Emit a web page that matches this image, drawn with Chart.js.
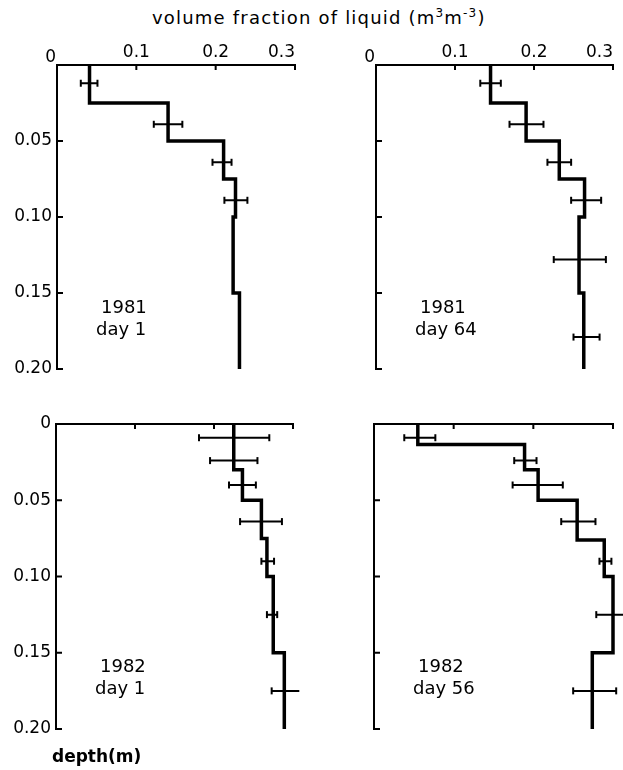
<!DOCTYPE html>
<html>
<head>
<meta charset="utf-8">
<script src="https://cdn.jsdelivr.net/npm/chart.js@4/dist/chart.umd.min.js"></script>
<style>
  body { margin: 0; background: #fff; }
  #wrap { position: relative; width: 623px; height: 770px; font-family: 'DejaVu Sans', sans-serif; color: #000; }
  #wrap canvas { position: absolute; left: 0; top: 0; }
  .title { position: absolute; left: 152px; top: 6px; font-size: 18px; letter-spacing: 1.2px; white-space: nowrap; }
  .title sup { font-size: 12px; }
  .ylab { position: absolute; left: 52px; top: 746px; font-size: 17px; font-weight: bold; }
</style>
</head>
<body>
<div id="wrap">
  <div class="title">volume fraction of liquid (m<sup>3</sup>m<sup>-3</sup>)</div>
  <canvas id="p1" width="623" height="770"></canvas>
  <canvas id="p2" width="623" height="770"></canvas>
  <canvas id="p3" width="623" height="770"></canvas>
  <canvas id="p4" width="623" height="770"></canvas>
  <div class="ylab">depth(m)</div>
</div>
<script>
const fractionTicks = [0, 0.1, 0.2, 0.3];
const depthTicks = [0, 0.05, 0.10, 0.15, 0.20];
const maxDepth = 0.20;

// 1981 day 1
const top81d1 = [0, 0.025, 0.05, 0.075, 0.10, 0.15];
const val81d1 = [0.041, 0.14, 0.21, 0.225, 0.222, 0.23];
const errDepth81d1 = [0.012, 0.039, 0.064, 0.089];
const errLow81d1 = [0.030, 0.122, 0.196, 0.211];
const errHigh81d1 = [0.051, 0.158, 0.220, 0.240];

// 1981 day 64
const top81d64 = [0, 0.025, 0.05, 0.075, 0.10, 0.15];
const val81d64 = [0.145, 0.19, 0.232, 0.264, 0.257, 0.263];
const errDepth81d64 = [0.012, 0.039, 0.064, 0.089, 0.128, 0.179];
const errLow81d64 = [0.132, 0.169, 0.217, 0.247, 0.225, 0.250];
const errHigh81d64 = [0.158, 0.212, 0.247, 0.285, 0.291, 0.283];

// 1982 day 1
const top82d1 = [0, 0.03, 0.05, 0.075, 0.10, 0.15];
const val82d1 = [0.225, 0.236, 0.26, 0.267, 0.275, 0.289];
const errDepth82d1 = [0.009, 0.024, 0.040, 0.064, 0.090, 0.125, 0.175];
const errLow82d1 = [0.181, 0.195, 0.219, 0.233, 0.260, 0.267, 0.273];
const errHigh82d1 = [0.270, 0.255, 0.253, 0.286, 0.276, 0.280, 0.308];

// 1982 day 56
const top82d56 = [0, 0.0135, 0.03, 0.05, 0.076, 0.10, 0.15];
const val82d56 = [0.055, 0.189, 0.206, 0.255, 0.289, 0.30, 0.274];
const errDepth82d56 = [0.009, 0.024, 0.040, 0.064, 0.090, 0.125, 0.175];
const errLow82d56 = [0.038, 0.176, 0.174, 0.235, 0.283, 0.279, 0.250];
const errHigh82d56 = [0.077, 0.204, 0.237, 0.278, 0.298, 0.313, 0.304];

const panelYears = ['1981', '1981', '1982', '1982'];
const panelDays = ['day 1', 'day 64', 'day 1', 'day 56'];

const FONT = "'DejaVu Sans', sans-serif";

// draws the inward tick marks, the corner "0" and the year/day label
const panelDecor = {
  id: 'panelDecor',
  afterDatasetsDraw(chart, args, opts) {
    const { ctx, chartArea: a, scales: { x, y } } = chart;
    ctx.save();
    ctx.strokeStyle = '#000';
    ctx.lineWidth = 2;
    ctx.beginPath();
    fractionTicks.slice(1).forEach(v => {
      const px = x.getPixelForValue(v);
      ctx.moveTo(px, a.top);
      ctx.lineTo(px, a.top + 5);
    });
    depthTicks.slice(1).forEach(v => {
      const py = y.getPixelForValue(v);
      ctx.moveTo(a.left, py);
      ctx.lineTo(a.left + 6, py);
    });
    ctx.stroke();

    ctx.fillStyle = '#000';
    ctx.textBaseline = 'middle';
    ctx.font = '18px ' + FONT;
    ctx.fillText(opts.year, a.left + 44, a.top + 243);
    ctx.fillText(opts.day, a.left + 39, a.top + 265);
    if (opts.corner) {
      ctx.font = '17px ' + FONT;
      ctx.textAlign = 'right';
      ctx.fillText('0', a.left - 1, a.top - 7);
    }
    ctx.restore();
  }
};

function makePanel(id, i, box, tops, vals, errDepth, errLow, errHigh) {
  const steps = tops.map((t, k) => ({ x: vals[k], y: t }));
  steps.push({ x: vals[vals.length - 1], y: maxDepth });

  const bars = [];
  errDepth.forEach((d, k) => {
    bars.push({ x: errLow[k], y: d }, { x: errHigh[k], y: d }, { x: errHigh[k], y: null });
  });

  new Chart(document.getElementById(id), {
    type: 'scatter',
    data: {
      datasets: [{
        data: steps,
        showLine: true,
        stepped: 'after',
        borderColor: '#000',
        borderWidth: 3.5,
        pointRadius: 0,
        clip: false
      }, {
        data: bars,
        showLine: true,
        borderColor: '#000',
        borderWidth: 2,
        pointStyle: 'line',
        rotation: 90,
        pointRadius: 3.5,
        pointBorderWidth: 2,
        pointBorderColor: '#000',
        clip: false
      }]
    },
    plugins: [panelDecor],
    options: {
      responsive: false,
      animation: false,
      layout: {
        padding: { left: 0, top: 0, right: 623 - box.right, bottom: 770 - box.bottom }
      },
      plugins: {
        legend: { display: false },
        tooltip: { enabled: false },
        panelDecor: { year: panelYears[i], day: panelDays[i], corner: box.corner }
      },
      scales: {
        x: {
          type: 'linear',
          position: 'top',
          min: 0,
          max: 0.3,
          afterBuildTicks: s => { s.ticks = fractionTicks.map(v => ({ value: v })); },
          afterFit: s => { s.height = box.top; s.paddingLeft = 0; s.paddingRight = 0; },
          grid: { display: false, drawTicks: false },
          border: { display: true, width: 2, color: '#000' },
          ticks: {
            display: box.xLabels,
            align: 'inner',
            padding: 2,
            color: '#000',
            font: { family: FONT, size: 17 },
            callback: v => v === 0 ? '' : v.toFixed(1)
          }
        },
        y: {
          type: 'linear',
          reverse: true,
          min: 0,
          max: maxDepth,
          afterBuildTicks: s => { s.ticks = depthTicks.map(v => ({ value: v })); },
          afterFit: s => { s.width = box.left; s.paddingTop = 0; s.paddingBottom = 0; },
          grid: { display: false, drawTicks: false },
          border: { display: true, width: 2, color: '#000' },
          ticks: {
            display: box.yLabels,
            padding: 5,
            color: '#000',
            font: { family: FONT, size: 17 },
            callback: v => v === 0 ? (box.corner ? '' : '0') : v.toFixed(2)
          }
        }
      }
    }
  });
}

makePanel('p1', 0, { left: 57, top: 65, right: 295, bottom: 369, xLabels: true, yLabels: true, corner: true },
  top81d1, val81d1, errDepth81d1, errLow81d1, errHigh81d1);
makePanel('p2', 1, { left: 376, top: 65, right: 613, bottom: 369, xLabels: true, yLabels: false, corner: true },
  top81d64, val81d64, errDepth81d64, errLow81d64, errHigh81d64);
makePanel('p3', 2, { left: 56, top: 424, right: 293, bottom: 729, xLabels: false, yLabels: true, corner: false },
  top82d1, val82d1, errDepth82d1, errLow82d1, errHigh82d1);
makePanel('p4', 3, { left: 374, top: 424, right: 613, bottom: 729, xLabels: false, yLabels: false, corner: false },
  top82d56, val82d56, errDepth82d56, errLow82d56, errHigh82d56);
</script>
</body>
</html>
